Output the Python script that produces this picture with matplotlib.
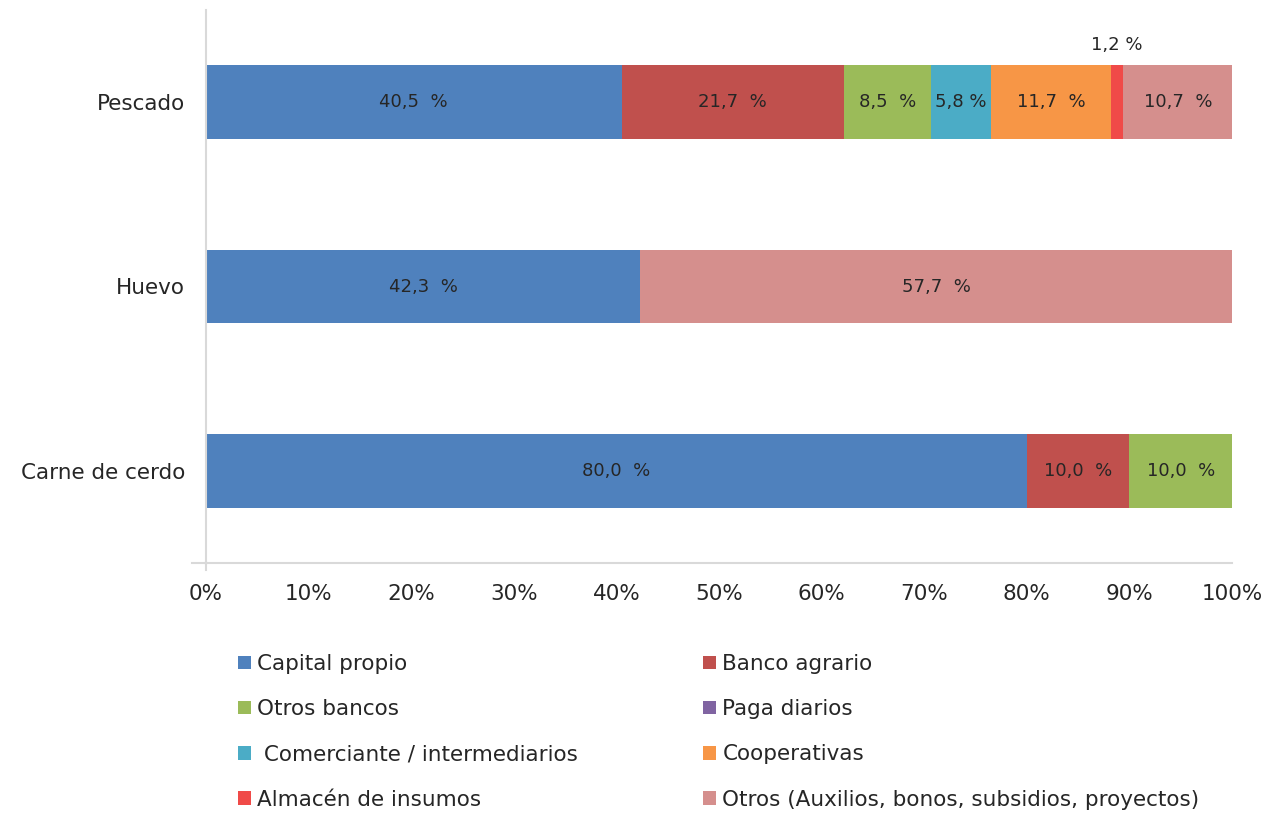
import matplotlib
matplotlib.use('Agg')
import matplotlib.pyplot as plt
import numpy as np

# data (percent) - bottom to top
categories = ['Carne de cerdo', 'Huevo', 'Pescado']
series = ['Capital propio', 'Banco agrario', 'Otros bancos', 'Paga diarios',
          ' Comerciante / intermediarios', 'Cooperativas', 'Almacén de insumos',
          'Otros (Auxilios, bonos, subsidios, proyectos)']
capital_propio = [80.0, 42.3, 40.5]
banco_agrario = [10.0, 0.0, 21.7]
otros_bancos = [10.0, 0.0, 8.5]
paga_diarios = [0.0, 0.0, 0.0]
comerciante = [0.0, 0.0, 5.8]
cooperativas = [0.0, 0.0, 11.7]
almacen = [0.0, 0.0, 1.2]
otros = [0.0, 57.7, 10.7]
values = [capital_propio, banco_agrario, otros_bancos, paga_diarios,
          comerciante, cooperativas, almacen, otros]
colors = ['#4F81BD', '#C0504D', '#9BBB59', '#8064A2',
          '#4BACC6', '#F79646', '#F04A48', '#D58F8D']

plt.rcParams['font.family'] = ['DejaVu Sans']
txt = '#262626'

fig = plt.figure(figsize=(12.69, 8.15), dpi=100)
ax = fig.add_axes([206/1269, 1 - 563/815, 1026/1269, 553/815])

y = np.arange(len(categories))
left = np.zeros(len(categories))
handles = []
for name, vals, c in zip(series, values, colors):
    vals = np.array(vals)
    h = ax.barh(y, vals, left=left, height=0.4, color=c, label=name)
    handles.append(h)
    for i, v in enumerate(vals):
        if v <= 0:
            continue
        lab = ('%.1f' % v).replace('.', ',')
        if v < 2:
            ax.text(left[i] + v / 2, y[i] + 0.31, lab + ' %', ha='center',
                    va='center', fontsize=13, color=txt)
        elif v < 6:
            ax.text(left[i] + v / 2, y[i], lab + ' %', ha='center',
                    va='center', fontsize=13, color=txt)
        else:
            ax.text(left[i] + v / 2, y[i], lab + '  %', ha='center',
                    va='center', fontsize=13, color=txt)
    left += vals

ax.set_xlim(0, 100)
ax.set_ylim(-0.5, 2.5)
ax.set_xticks(np.arange(0, 101, 10))
ax.set_xticklabels(['%d%%' % t for t in range(0, 101, 10)])
ax.set_yticks(y)
ax.set_yticklabels(categories)
ax.tick_params(axis='both', length=0, labelsize=15.5, colors=txt)
ax.tick_params(axis='x', pad=15)
ax.tick_params(axis='y', pad=15)
for s in ['top', 'right']:
    ax.spines[s].set_visible(False)
for s in ['left', 'bottom']:
    ax.spines[s].set_color('#D9D9D9')
    ax.spines[s].set_linewidth(1.5)
ax.plot([-1.4, 0], [-0.5, -0.5], color='#D9D9D9', lw=1.5, clip_on=False)
ax.plot([0, 0], [-0.5, -0.54], color='#D9D9D9', lw=1.5, clip_on=False)

# legend: two columns, row-major order like the original
leg_kw = dict(loc='upper left', frameon=False, fontsize=15.5, handlelength=0.6,
              handleheight=0.6, handletextpad=0.3, labelspacing=1.17,
              labelcolor=txt, borderaxespad=0, borderpad=0)
fig.legend(handles[0::2], series[0::2],
           bbox_to_anchor=(238/1269, 1 - 654/815), **leg_kw)
fig.legend(handles[1::2], series[1::2],
           bbox_to_anchor=(703/1269, 1 - 654/815), **leg_kw)

fig.savefig('out.png', dpi=100)
